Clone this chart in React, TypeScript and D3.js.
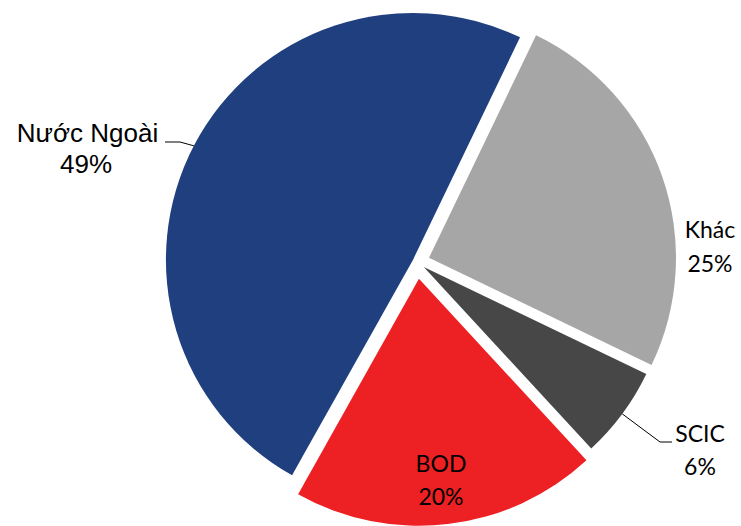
import React from "react";
import * as d3 from "d3";

const categories = ["Khác", "SCIC", "BOD", "Nước Ngoài"];
const values = [25, 6, 20, 49];
const percentLabels = ["25%", "6%", "20%", "49%"];

const COLORS = ["#A6A6A6", "#474747", "#ED2024", "#1F3F7E"];
const EXPLODE = [12.7, 8.4, 16.9, 4.6];

const W = 741;
const H = 526;
const CX = 417;
const CY = 262;
const R = 247;
const START = (25.7 * Math.PI) / 180;

export default function App() {
  const pie = d3
    .pie<number>()
    .sort(null)
    .value((d) => d)
    .startAngle(START)
    .endAngle(START + 2 * Math.PI);
  const arcs = pie(values);
  const arcGen = d3.arc<d3.PieArcDatum<number>>().innerRadius(0).outerRadius(R);

  const offsets = arcs.map((a, i) => {
    const m = (a.startAngle + a.endAngle) / 2;
    return [EXPLODE[i] * Math.sin(m), -EXPLODE[i] * Math.cos(m)];
  });
  const edgePoint = (i: number) => {
    const a = arcs[i];
    const m = (a.startAngle + a.endAngle) / 2;
    return [CX + offsets[i][0] + R * Math.sin(m), CY + offsets[i][1] - R * Math.cos(m)];
  };

  const pNN = edgePoint(3);
  const pSC = edgePoint(1);

  const calibri = "Lato, Carlito, Calibri, sans-serif";
  const arial = "'Liberation Sans', Arial, sans-serif";

  return (
    <svg
      width={W}
      height={H}
      style={{ position: "absolute", left: 0, top: 0, background: "#fff" }}
    >
      {arcs.map((a, i) => (
        <path
          key={categories[i]}
          d={arcGen(a) || ""}
          fill={COLORS[i]}
          transform={`translate(${CX + offsets[i][0]},${CY + offsets[i][1]})`}
        />
      ))}
      {/* leader lines */}
      <polyline
        points={`${pNN[0]},${pNN[1]} 180,142 165,142`}
        fill="none"
        stroke="#000"
        strokeWidth={1}
      />
      <polyline
        points={`${pSC[0]},${pSC[1]} 660,442 672,442`}
        fill="none"
        stroke="#000"
        strokeWidth={1}
      />
      {/* labels */}
      <g fontFamily={arial} fontSize={26} fill="#000" textAnchor="middle">
        <text x={87.5} y={142}>{categories[3]}</text>
        <text x={86} y={173}>{percentLabels[3]}</text>
      </g>
      <g fontFamily={calibri} fontSize={23} fill="#000" textAnchor="middle">
        <text x={710} y={238}>{categories[0]}</text>
        <text x={710} y={272}>{percentLabels[0]}</text>
        <text x={700} y={442}>{categories[1]}</text>
        <text x={700} y={475}>{percentLabels[1]}</text>
        <text x={441} y={472}>{categories[2]}</text>
        <text x={441} y={505}>{percentLabels[2]}</text>
      </g>
    </svg>
  );
}
